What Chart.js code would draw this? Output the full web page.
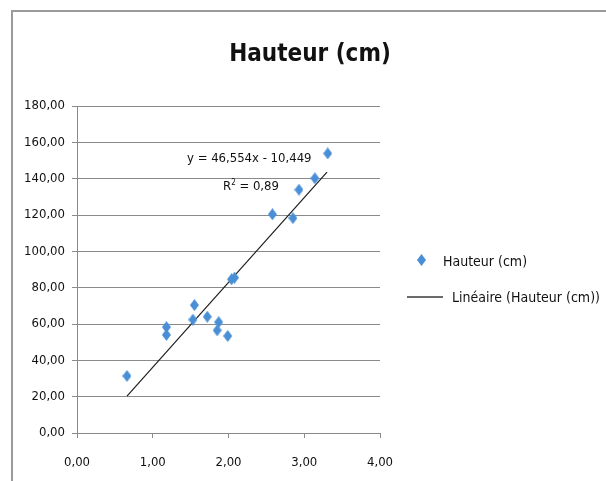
<!DOCTYPE html>
<html lang="fr">
<head>
<meta charset="UTF-8">
<title>Hauteur (cm)</title>
<script src="https://cdn.jsdelivr.net/npm/chart.js@4/dist/chart.umd.min.js"></script>
<style>
  html, body { margin: 0; padding: 0; background: #fff; }
  #wrap { position: relative; width: 606px; height: 481px; overflow: hidden;
          font-family: "DejaVu Sans Condensed", "DejaVu Sans", sans-serif; color: #111; }
  #frame { position: absolute; left: 11px; top: 10px; width: 620px; height: 500px;
           border-top: 2px solid #9a9a9a; border-left: 2px solid #9a9a9a; }
  #chart { position: absolute; left: 0; top: 0; }
  #title { position: absolute; left: 210px; width: 200px; top: 41px; text-align: center;
           font-weight: bold; font-size: 24px; line-height: 24px; }
  .eq { position: absolute; font-size: 13px; line-height: 13px; white-space: nowrap; }
  .eq sup { font-size: 8px; vertical-align: 5px; line-height: 0; }
  .leg { position: absolute; font-size: 14px; line-height: 14px; white-space: nowrap; }
  #legDiamond { position: absolute; left: 417px; top: 254px; width: 9px; height: 12px; }
  #legLine { position: absolute; left: 407px; top: 296px; width: 36px; height: 2px; background: #6a6a6a; }
</style>
</head>
<body>
<div id="wrap">
  <div id="frame"></div>
  <canvas id="chart" width="606" height="481"></canvas>
  <div id="title">Hauteur (cm)</div>
  <div class="eq" style="left:187px; top:151px;">y = 46,554x - 10,449</div>
  <div class="eq" style="left:223px; top:179px;">R<sup>2</sup> = 0,89</div>
  <canvas id="legDiamond" width="9" height="12"></canvas>
  <div class="leg" style="left:443px; top:254px;">Hauteur (cm)</div>
  <div id="legLine"></div>
  <div class="leg" style="left:452px; top:290px;">Linéaire (Hauteur (cm))</div>
</div>
<script>
  // values
  const ageX = [0.66, 1.18, 1.18, 1.53, 1.55, 1.72, 1.85, 1.87, 1.99, 2.04, 2.08, 2.58, 2.85, 2.93, 3.14, 3.31];
  const hauteurY = [31.4, 58.3, 54.0, 62.4, 70.4, 64.0, 56.5, 61.0, 53.4, 84.6, 85.5, 120.4, 118.3, 133.9, 140.2, 153.9];
  // trendline ends as drawn in the picture
  const trendX = [0.66, 3.30];
  const trendY = [20.3, 143.6];
  const xTicks = [0, 1, 2, 3, 4];
  const yTicks = [0, 20, 40, 60, 80, 100, 120, 140, 160, 180];

  const blue = '#4a8fd6';

  function diamond(w, h) {
    const c = document.createElement('canvas');
    c.width = w; c.height = h;
    const g = c.getContext('2d');
    g.fillStyle = blue;
    g.beginPath();
    g.moveTo(w / 2, 0);
    g.lineTo(w, h / 2);
    g.lineTo(w / 2, h);
    g.lineTo(0, h / 2);
    g.closePath();
    g.fill();
    return c;
  }

  // legend marker
  const lg = document.getElementById('legDiamond').getContext('2d');
  lg.drawImage(diamond(9, 12), 0, 0);

  const fmt = v => v.toFixed(2).replace('.', ',');

  const ctx = document.getElementById('chart').getContext('2d');
  new Chart(ctx, {
    type: 'scatter',
    data: {
      datasets: [
        {
          label: 'Hauteur (cm)',
          data: ageX.map((x, i) => ({ x: x, y: hauteurY[i] })),
          pointStyle: diamond(9, 12),
          pointRadius: 5,
          showLine: false
        },
        {
          label: 'Linéaire (Hauteur (cm))',
          type: 'line',
          data: trendX.map((x, i) => ({ x: x, y: trendY[i] })),
          borderColor: '#1e1e1e',
          borderWidth: 1.2,
          pointRadius: 0,
          fill: false
        }
      ]
    },
    options: {
      responsive: false,
      animation: false,
      layout: { padding: { left: 12, top: 106, right: 226, bottom: 0 } },
      plugins: {
        legend: { display: false },
        title: { display: false },
        tooltip: { enabled: false }
      },
      scales: {
        x: {
          type: 'linear',
          min: 0,
          max: 4,
          afterBuildTicks: s => { s.ticks = xTicks.map(v => ({ value: v })); },
          afterFit: s => { s.height = 48; },
          border: { color: '#8a8a8a', width: 1 },
          grid: { drawOnChartArea: false, drawTicks: true, tickLength: 5, color: '#8a8a8a' },
          ticks: {
            callback: v => fmt(v),
            color: '#111',
            padding: 17,
            maxRotation: 0,
            font: { family: '"DejaVu Sans Condensed", "DejaVu Sans"', size: 13 }
          }
        },
        y: {
          type: 'linear',
          min: 0,
          max: 180,
          afterBuildTicks: s => { s.ticks = yTicks.map(v => ({ value: v })); },
          afterFit: s => { s.width = 65; },
          border: { color: '#8a8a8a', width: 1 },
          grid: { drawTicks: true, tickLength: 5, color: '#8a8a8a' },
          ticks: {
            callback: v => fmt(v),
            color: '#111',
            padding: 7,
            font: { family: '"DejaVu Sans Condensed", "DejaVu Sans"', size: 13 }
          }
        }
      }
    }
  });
</script>
</body>
</html>
